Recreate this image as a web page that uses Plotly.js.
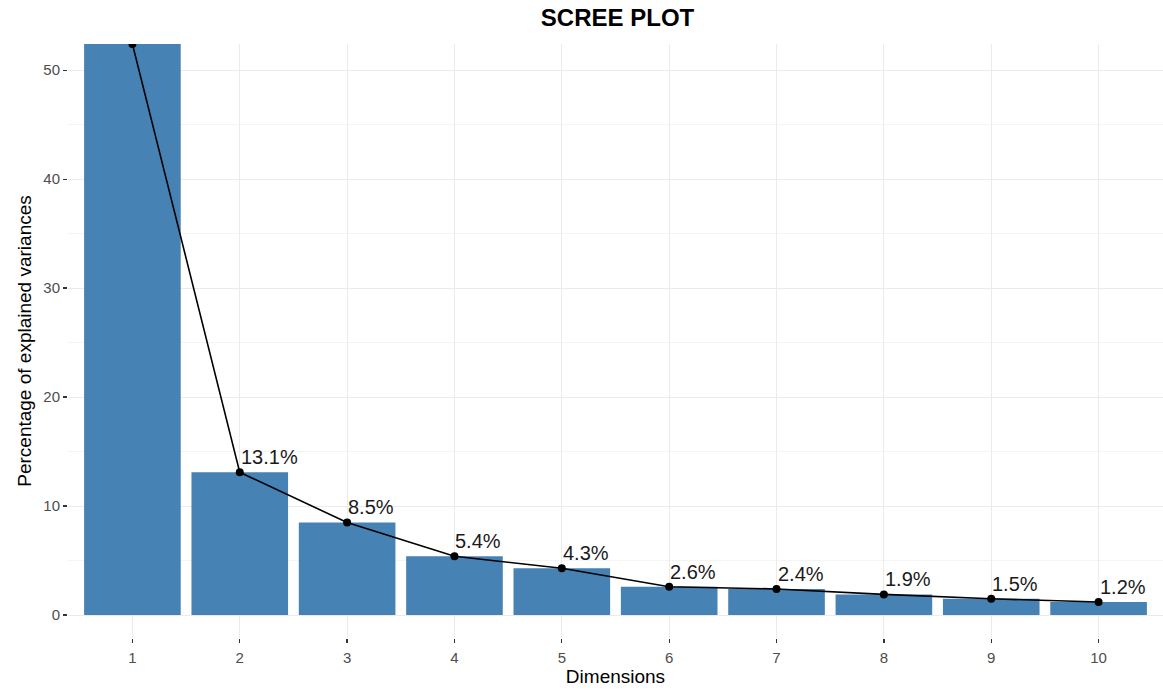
<!DOCTYPE html>
<html>
<head>
<meta charset="utf-8">
<script src="https://cdn.plot.ly/plotly-3.0.1.min.js"></script>
<style>html,body{margin:0;padding:0;background:#fff;}#chart{width:1163px;height:698px;}</style>
</head>
<body>
<div id="chart"></div>
<script>
const dimensions = [1, 2, 3, 4, 5, 6, 7, 8, 9, 10];
const variances = [52.4, 13.1, 8.5, 5.4, 4.3, 2.6, 2.4, 1.9, 1.5, 1.2];
const labels = variances.map(v => v.toFixed(1) + '%');
const yRange = [-2.1, 52.4];

const bars = {
  type: 'bar', x: dimensions, y: variances, width: 0.9,
  marker: {color: '#4682B4', line: {width: 0}},
  hoverinfo: 'skip', showlegend: false
};
const line = {
  type: 'scatter', mode: 'lines+markers', x: dimensions, y: variances,
  line: {color: '#000', width: 1.6},
  marker: {color: '#000', size: 8},
  cliponaxis: true, showlegend: false
};
const annotations = dimensions
  .map((d, i) => ({d, v: variances[i], t: labels[i]}))
  .filter(o => o.v < yRange[1])
  .map(o => ({
    x: o.d, y: o.v, xref: 'x', yref: 'y', text: o.t, showarrow: false,
    xanchor: 'left', yanchor: 'bottom', xshift: -1, yshift: 2,
    font: {family: 'Liberation Sans, Arial, sans-serif', size: 20, color: '#1a1a1a'}
  }));

const layout = {
  width: 1163, height: 698,
  margin: {l: 68, r: 0, t: 44, b: 60},
  paper_bgcolor: '#fff', plot_bgcolor: '#fff',
  font: {family: 'Liberation Sans, Arial, sans-serif'},
  title: {text: '<b>SCREE PLOT</b>', x: 0.531, xanchor: 'center', y: 0.975, yanchor: 'middle',
          font: {size: 24, color: '#000'}},
  annotations: annotations,
  xaxis: {
    range: [0.4, 10.6], tickmode: 'array', tickvals: dimensions, ticktext: dimensions.map(String),
    showgrid: true, gridcolor: '#ebebeb', gridwidth: 1.2, zeroline: false, showline: false,
    ticks: 'outside', ticklen: 4, tickcolor: '#333', tickwidth: 1.3, ticklabelstandoff: 2,
    tickfont: {size: 15, color: '#4d4d4d'},
    title: {text: 'Dimensions', font: {size: 19, color: '#000'}, standoff: 4}
  },
  yaxis: {
    range: yRange, tickvals: [0, 10, 20, 30, 40, 50],
    showgrid: true, gridcolor: '#ebebeb', gridwidth: 1.2, zeroline: false, showline: false,
    minor: {tickvals: [5, 15, 25, 35, 45], showgrid: true, gridcolor: '#f4f4f4', gridwidth: 1, ticks: ''},
    ticks: 'outside', ticklen: 4, tickcolor: '#333', tickwidth: 1.3,
    tickfont: {size: 15, color: '#4d4d4d'},
    title: {text: 'Percentage of explained variances', font: {size: 19, color: '#000'}, standoff: 6}
  },
  bargap: 0.1
};
Plotly.newPlot('chart', [bars, line], layout, {displayModeBar: false, staticPlot: true});
</script>
</body>
</html>
